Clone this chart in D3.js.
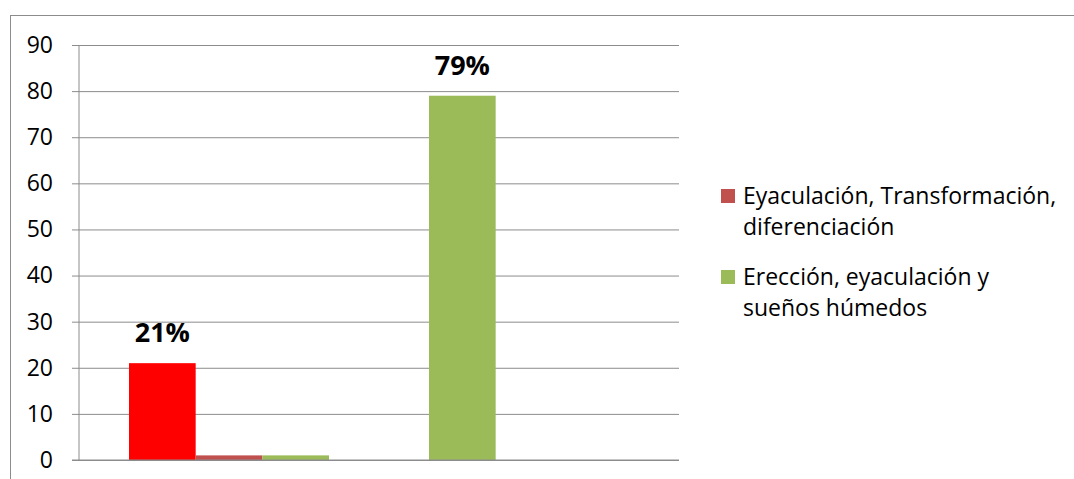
<!DOCTYPE html>
<html>
<head>
<meta charset="utf-8">
<script src="https://cdn.jsdelivr.net/npm/d3@7"></script>
<style>
  body { margin: 0; background: #fff; }
  svg { display: block; font-family: 'Open Sans', sans-serif; }
  .grid line { stroke: #8c8c8c; stroke-width: 1; }
  .grid path { display: none; }
  .axis path, .axis line { stroke: #8c8c8c; stroke-width: 1; }
  .axis text { font-family: 'Open Sans', sans-serif; font-size: 23px; fill: #000; }
</style>
</head>
<body>
<svg class="chart"></svg>
<script>
// DATA
const categories = ['cat1', 'cat2'];
const seriesNames = ['serie1', 'Eyaculación, Transformación, diferenciación', 'Erección, eyaculación y sueños húmedos'];
const serie1 = [21, 79];
const serie2 = [1, 0];
const serie3 = [1, 0];
const serie1Colors = ['#ff0000', '#9bbb59'];
const seriesColors = ['#ff0000', '#c0504d', '#9bbb59'];
const serie1Labels = ['21%', '79%'];
const yTicks = [0, 10, 20, 30, 40, 50, 60, 70, 80, 90];
// legend shows only series 2 and 3, wrapped in two lines each
const legendLines = [
    ['Eyaculación, Transformación,', 'diferenciación'],
    ['Erección, eyaculación y', 'sueños húmedos']
];

//INITIALIZING CANVAS
const size = {w: 1074, h: 479};
const plot = {left: 79, right: 679, top: 45, bottom: 460};

const svg = d3.select('svg.chart')
    .attr('width', size.w)
    .attr('height', size.h);

// chart frame (right and bottom edges are off the page)
svg.append('rect')
    .attr('x', 10.5).attr('y', 15.5)
    .attr('width', 1200).attr('height', 600)
    .attr('fill', 'none')
    .attr('stroke', '#8c8c8c');

//SCALES
const y = d3.scaleLinear().domain([0, 90]).range([plot.bottom, plot.top]);
const x0 = d3.scaleBand().domain(categories).range([plot.left, plot.right]).padding(0);
const x1 = d3.scaleBand().domain(seriesNames).range([0, x0.bandwidth()])
    .paddingInner(0).paddingOuter(0.75);

//GRIDLINES
svg.append('g')
    .attr('class', 'grid')
    .attr('transform', `translate(${plot.left},0)`)
    .call(d3.axisRight(y).tickValues(yTicks).tickSize(plot.right - plot.left).tickFormat(''));

//Y AXIS
svg.append('g')
    .attr('class', 'axis')
    .attr('transform', `translate(${plot.left},0)`)
    .call(d3.axisLeft(y).tickValues(yTicks).tickSize(7).tickPadding(19))
    .call(g => g.select('.domain').attr('d', `M0,${plot.top}V${plot.bottom}`));

//BARS
const rows = categories.map((c, i) => ({
    cat: c,
    vals: [
        {s: seriesNames[0], v: serie1[i], color: serie1Colors[i]},
        {s: seriesNames[1], v: serie2[i], color: seriesColors[1]},
        {s: seriesNames[2], v: serie3[i], color: seriesColors[2]}
    ]
}));

const groups = svg.selectAll('g.cat')
    .data(rows)
    .enter()
    .append('g')
    .attr('class', 'cat')
    .attr('transform', d => `translate(${x0(d.cat)},0)`);

groups.selectAll('rect')
    .data(d => d.vals)
    .enter()
    .append('rect')
    .attr('x', d => x1(d.s))
    .attr('y', d => y(d.v))
    .attr('width', x1.bandwidth())
    .attr('height', d => y(0) - y(d.v))
    .attr('fill', d => d.color);

// bottom axis line on top of bars
svg.append('line')
    .attr('x1', plot.left - 7).attr('x2', plot.right)
    .attr('y1', y(0)).attr('y2', y(0))
    .attr('stroke', '#8c8c8c');

//DATA LABELS
svg.selectAll('text.lbl')
    .data(categories)
    .enter()
    .append('text')
    .attr('class', 'lbl')
    .attr('x', c => x0(c) + x1(seriesNames[0]) + x1.bandwidth() / 2)
    .attr('y', (c, i) => y(serie1[i]) - 21)
    .attr('text-anchor', 'middle')
    .style('font-size', '27px')
    .style('font-weight', 'bold')
    .text((c, i) => serie1Labels[i]);

//LEGEND
const legend = svg.append('g').attr('transform', 'translate(721,189)');
legendLines.forEach((lines, i) => {
    const item = legend.append('g').attr('transform', `translate(0,${i * 81})`);
    item.append('rect')
        .attr('width', 14).attr('height', 14)
        .attr('fill', seriesColors[i + 1]);
    item.selectAll('text')
        .data(lines)
        .enter()
        .append('text')
        .attr('x', 22)
        .attr('y', (d, j) => 15 + j * 31)
        .style('font-size', '23px')
        .style('fill', '#000')
        .text(d => d);
});
</script>
</body>
</html>
